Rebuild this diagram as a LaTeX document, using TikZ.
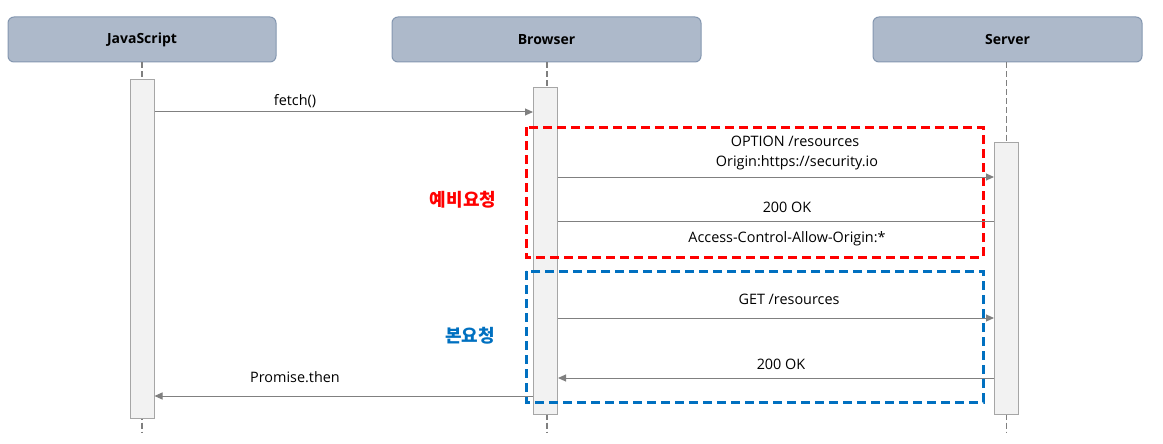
\documentclass[tikz,border=0pt]{standalone}
\usepackage{fontspec}
\setmainfont{Open Sans}
\newfontfamily\kr{Noto Sans CJK KR}
\usetikzlibrary{arrows.meta}
\definecolor{headfill}{HTML}{ADB9CA}
\definecolor{headborder}{HTML}{8497B0}
\definecolor{actfill}{HTML}{F2F2F2}
\definecolor{actborder}{HTML}{A6A6A6}
\definecolor{msgline}{HTML}{808080}
\definecolor{lifeline}{HTML}{7F7F7F}
\definecolor{prered}{HTML}{FF0000}
\definecolor{mainblue}{HTML}{0070C0}
\begin{document}
\begin{tikzpicture}[x=1pt,y=-1pt,
  head/.style={draw=headborder, fill=headfill, rounded corners=6pt, line width=1pt,
    minimum height=45pt, inner sep=0pt, font=\bfseries\fontsize{14}{16}\selectfont},
  act/.style={draw=actborder, fill=actfill, line width=1pt, minimum width=24pt, inner sep=0pt},
  life/.style={draw=lifeline, line width=1.8pt, dash pattern=on 6pt off 3pt},
  msg/.style={draw=msgline, line width=1pt},
  msgarrow/.style={msg, -{Triangle[length=8pt,width=7pt]}},
  lbl/.style={font=\fontsize{14.4}{16}\selectfont, anchor=base, inner sep=0pt},
  grp/.style={line width=3pt, dash pattern=on 9pt off 5pt},
  grplbl/.style={font=\kr\bfseries\fontsize{18}{20}\selectfont, inner sep=0pt}]
\useasboundingbox (0,0) rectangle (1163,444);
% headers
\node[head, minimum width=268pt] (js) at (142,39.5) {JavaScript};
\node[head, minimum width=309pt] (br) at (546.5,39.5) {Browser};
\node[head, minimum width=269pt] (sv) at (1007.5,39.5) {Server};
% lifelines
\coordinate (jsend) at (142,432);
\coordinate (brend) at (547,432);
\coordinate (svend) at (1006.5,432);
\draw[life] (js.south) -- (jsend);
\draw[life] (br.south -| brend) -- (brend);
\draw[life] (sv.south -| svend) -- (svend);
% activations
\node[act, minimum height=338pt] (jsact) at (142,249) {};
\node[act, minimum height=326pt] (bract) at (545.5,251) {};
\node[act, minimum height=272pt] (svact) at (1006.5,278) {};
% groups
\draw[grp, draw=prered] (526,127) rectangle (983,257);
\draw[grp, draw=mainblue] (526,271) rectangle (983,402);
\node[grplbl, text=prered] (pre) at (463,200) {예비요청};
\node[grplbl, text=mainblue] (main) at (470,336) {본요청};
% y levels
\coordinate (y1) at (0,112);
\coordinate (y2) at (0,177);
\coordinate (y3) at (0,221);
\coordinate (y4) at (0,318);
\coordinate (y5) at (0,378);
\coordinate (y6) at (0,396);
% messages
\draw[msgarrow] (jsact.east |- y1) -- (bract.west |- y1);
\node[lbl] (l1) at (295,106) {fetch()};
\draw[msgarrow] (bract.east |- y2) -- (svact.west |- y2);
\node[lbl] (l2a) at (795,146.7) {OPTION /resources};
\node[lbl] (l2b) at (797,166.7) {Origin:https://security.io};
\draw[msg] (svact.west |- y3) -- (bract.east |- y3);
\node[lbl] (l3a) at (787,212.7) {200 OK};
\node[lbl] (l3b) at (787,242) {Access-Control-Allow-Origin:*};
\draw[msgarrow] (bract.east |- y4) -- (svact.west |- y4);
\node[lbl] (l4) at (789,304) {GET /resources};
\draw[msgarrow] (svact.west |- y5) -- (bract.east |- y5);
\node[lbl] (l5) at (781,369) {200 OK};
\draw[msgarrow] (bract.west |- y6) -- (jsact.east |- y6);
\node[lbl] (l6) at (295,382.7) {Promise.then};
\end{tikzpicture}
\end{document}
